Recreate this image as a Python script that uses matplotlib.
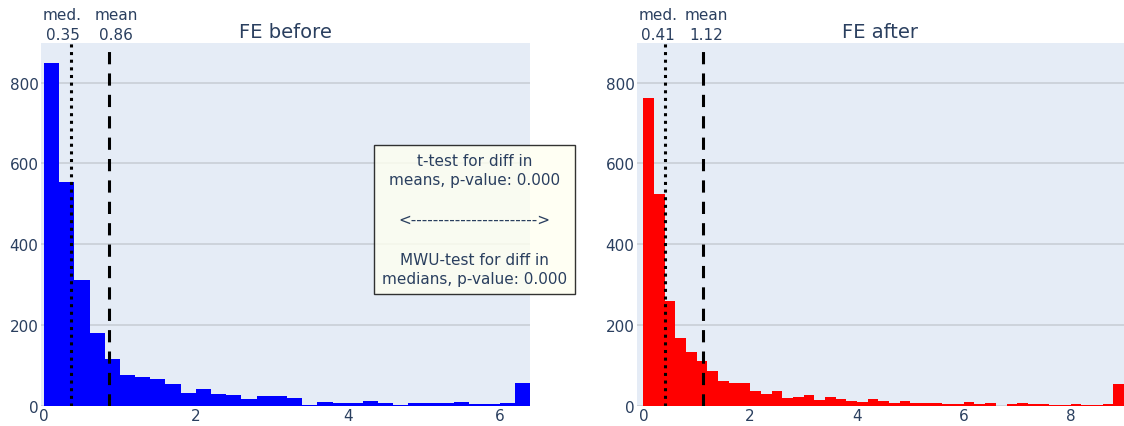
import matplotlib.pyplot as plt
import numpy as np

# histogram counts, bins of width 0.2 starting at 0
bin_width = 0.2
counts_before = [849, 554, 312, 181, 116, 76, 71, 66, 54, 31,
                 41, 29, 26, 17, 24, 24, 19, 2, 9, 7,
                 7, 12, 7, 2, 7, 7, 7, 9, 4, 4,
                 7, 56]
counts_after = [762, 523, 258, 168, 133, 111, 86, 61, 56, 56,
                36, 29, 36, 19, 22, 27, 14, 22, 17, 12,
                9, 17, 12, 7, 12, 7, 7, 7, 4, 4,
                9, 4, 7, 0, 4, 7, 4, 4, 2, 2,
                4, 2, 2, 4, 54]

med_before, mean_before = 0.35, 0.86
med_after, mean_after = 0.41, 1.12

titles = ["FE before", "FE after"]
colors = ["#0000ff", "#ff0000"]

box_text = ("t-test for diff in\nmeans, p-value: 0.000\n\n"
            "<" + "-" * 23 + ">\n\n"
            "MWU-test for diff in\nmedians, p-value: 0.000")

txt = "#2a3f5f"
W, H = 1124, 427
fig = plt.figure(figsize=(W / 100, H / 100), dpi=100)

ax1 = fig.add_axes([40.7 / W, 20.3 / H, 489.3 / W, 362.7 / H])
ax2 = fig.add_axes([636.7 / W, 20.3 / H, 487.3 / W, 362.7 / H])

panels = [
    (ax1, counts_before, med_before, mean_before, (-0.043, 6.4), [0, 2, 4, 6], (-8, 7)),
    (ax2, counts_after, med_after, mean_after, (-0.125, 9.0), [0, 2, 4, 6, 8], (-7, 3)),
]

for i, (ax, counts, med, mean, xl, xt, offs) in enumerate(panels):
    edges = np.arange(len(counts)) * bin_width
    ax.bar(edges, counts, width=bin_width, align="edge", color=colors[i],
           linewidth=0, zorder=2)
    ax.set_facecolor("#e5ecf6")
    ax.set_xlim(*xl)
    ax.set_ylim(0, 898)
    ax.set_xticks(xt)
    ax.set_yticks([0, 200, 400, 600, 800])
    ax.grid(axis="y", color="#c9ced6", linewidth=1.2, zorder=0)
    ax.set_axisbelow(True)
    for s in ax.spines.values():
        s.set_visible(False)
    ax.tick_params(length=0, labelsize=11, labelcolor=txt, pad=1.5)

    ax.axvline(med, color="black", linewidth=2.2, dashes=(1, 1.5), zorder=3)
    ax.axvline(mean, color="black", linewidth=2.2, dashes=(4, 3), zorder=3)

    ax.annotate("med.\n%.2f" % med, xy=(med, 1), xycoords=("data", "axes fraction"),
                xytext=(offs[0] * 0.72, 0.7), textcoords="offset points",
                ha="center", va="bottom", fontsize=11, color=txt, linespacing=1.4,
                annotation_clip=False)
    ax.annotate("mean\n%.2f" % mean, xy=(mean, 1), xycoords=("data", "axes fraction"),
                xytext=(offs[1] * 0.72, 0.7), textcoords="offset points",
                ha="center", va="bottom", fontsize=11, color=txt, linespacing=1.4,
                annotation_clip=False)

    ax.set_title(titles[i], fontsize=14, color=txt, pad=4.1)

fig.text(474.7 / W, 1 - 220.5 / H, box_text, ha="center", va="center",
         fontsize=11, color=txt, linespacing=1.4, zorder=5,
         bbox=dict(boxstyle="square,pad=0.5", facecolor="ivory", alpha=0.8,
                   edgecolor="black", linewidth=1))

fig.savefig("out.png", dpi=100)
